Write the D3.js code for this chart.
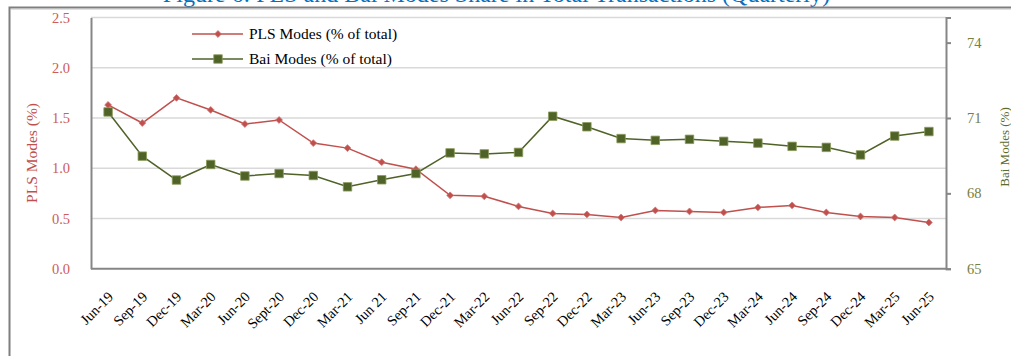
<!DOCTYPE html>
<html>
<head>
<meta charset="utf-8">
<script src="https://cdn.jsdelivr.net/npm/d3@7"></script>
<style>
  html, body { margin: 0; padding: 0; background: #fff; }
  svg { display: block; font-family: "Liberation Serif", "DejaVu Serif", serif; }
</style>
</head>
<body>
<svg id="chart" width="1011" height="356"></svg>
<script>
// Quarterly categories
const quarters = ["Jun-19","Sep-19","Dec-19","Mar-20","Jun-20","Sept-20","Dec-20","Mar-21","Jun 21","Sep-21",
  "Dec-21","Mar-22","Jun-22","Sep-22","Dec-22","Mar-23","Jun-23","Sep-23","Dec-23","Mar-24","Jun-24",
  "Sep-24","Dec-24","Mar-25","Jun-25"];

// PLS modes, % of total (left axis)
const plsShare = [1.63,1.45,1.70,1.58,1.44,1.48,1.25,1.20,1.06,0.99,
  0.73,0.72,0.62,0.55,0.54,0.51,0.58,0.57,0.56,0.61,0.63,0.56,0.52,0.51,0.46];

// Bai modes, % of total (right axis)
const baiShare = [71.24,69.48,68.53,69.15,68.69,68.79,68.71,68.26,68.54,68.79,
  69.61,69.57,69.63,71.07,70.65,70.18,70.11,70.15,70.07,70.00,69.87,69.83,69.53,70.28,70.46];

const leftTicks = [0.0,0.5,1.0,1.5,2.0,2.5];
const rightTicks = [65,68,71,74];

const seriesNames = ["PLS Modes (% of total)", "Bai Modes (% of total)"];
const titleText = "Figure 6: PLS and Bai Modes Share in Total Transactions (Quarterly)";

const svg = d3.select("#chart");
const plot = { left: 91, right: 946, top: 17.5, bottom: 268.7 };

const red = "#C0504D", green = "#4F6228";

const x = d3.scalePoint().domain(quarters).range([plot.left, plot.right]).padding(0.5);
const yL = d3.scaleLinear().domain([0, 2.5]).range([plot.bottom, plot.top]);
const yR = d3.scaleLinear().domain([65, 75]).range([plot.bottom, plot.top]);

// title (sits above the frame)
svg.append("text")
  .attr("x", 830).attr("y", 1.5)
  .attr("text-anchor", "end")
  .attr("font-size", 24)
  .attr("fill", "#0070C0")
  .text(titleText);

// outer frame
svg.append("rect")
  .attr("x", 9.5).attr("y", 7.5).attr("width", 1200).attr("height", 600)
  .attr("fill", "none").attr("stroke", "#7F7F7F").attr("stroke-width", 2);
svg.append("line")
  .attr("x1", 11).attr("x2", 1011).attr("y1", 9.5).attr("y2", 9.5)
  .attr("stroke", "#E0E0E0").attr("stroke-width", 1);

// gridlines
svg.append("g").selectAll("line")
  .data(leftTicks.slice(1))
  .join("line")
  .attr("x1", plot.left).attr("x2", plot.right)
  .attr("y1", d => yL(d)).attr("y2", d => yL(d))
  .attr("stroke", "#D9D9D9").attr("stroke-width", 1.5);

// left axis
const gL = svg.append("g").attr("transform", `translate(${plot.left},0)`)
  .call(d3.axisLeft(yL).tickValues(leftTicks).tickFormat(d3.format(".1f")).tickSize(0).tickPadding(21));
gL.select(".domain").attr("stroke", "#868686").attr("stroke-width", 2);
gL.selectAll("text").attr("font-family", "Liberation Serif").attr("font-size", 14.5).attr("fill", "#CD5C5A");

// right axis
const gR = svg.append("g").attr("transform", `translate(${plot.right},0)`)
  .call(d3.axisRight(yR).tickValues(rightTicks).tickSize(5).tickPadding(16));
gR.select(".domain").attr("stroke", "#868686").attr("stroke-width", 2);
gR.selectAll(".tick line").attr("stroke", "#868686").attr("stroke-width", 2);
gR.selectAll("text").attr("font-family", "Liberation Serif").attr("font-size", 14.5).attr("fill", "#76803F");

// bottom axis line
svg.append("line")
  .attr("x1", plot.left).attr("x2", plot.right)
  .attr("y1", plot.bottom).attr("y2", plot.bottom)
  .attr("stroke", "#868686").attr("stroke-width", 2);

// category labels
svg.append("g").selectAll("text")
  .data(quarters)
  .join("text")
  .attr("transform", d => `translate(${x(d) + 6},${plot.bottom + 29}) rotate(-45)`)
  .attr("text-anchor", "end")
  .attr("font-size", 14.5)
  .attr("fill", "#000")
  .text(d => d);

// axis titles
svg.append("text")
  .attr("transform", "translate(37,153) rotate(-90)")
  .attr("text-anchor", "middle")
  .attr("font-size", 15.5)
  .attr("fill", red)
  .text("PLS Modes (%)");
svg.append("text")
  .attr("transform", "translate(1009,147) rotate(-90)")
  .attr("text-anchor", "middle")
  .attr("font-size", 13)
  .attr("fill", "#5E6B2E")
  .text("Bai Modes (%)");

// series
const linePLS = d3.line().x((d, i) => x(quarters[i])).y(d => yL(d));
const lineBai = d3.line().x((d, i) => x(quarters[i])).y(d => yR(d));

svg.append("path").datum(plsShare)
  .attr("d", linePLS).attr("fill", "none").attr("stroke", red).attr("stroke-width", 1.5);
svg.append("path").datum(baiShare)
  .attr("d", lineBai).attr("fill", "none").attr("stroke", green).attr("stroke-width", 1.5);

const diamond = d3.symbol().type(d3.symbolDiamond2).size(30);
const square = d3.symbol().type(d3.symbolSquare).size(72);

svg.append("g").selectAll("path")
  .data(plsShare)
  .join("path")
  .attr("transform", (d, i) => `translate(${x(quarters[i])},${yL(d)})`)
  .attr("d", diamond)
  .attr("fill", red).attr("stroke", "#D07775").attr("stroke-width", 0.8);

svg.append("g").selectAll("path")
  .data(baiShare)
  .join("path")
  .attr("transform", (d, i) => `translate(${x(quarters[i])},${yR(d)})`)
  .attr("d", square)
  .attr("fill", green).attr("stroke", "#8A9A5B").attr("stroke-width", 0.8);

// legend
const legend = svg.append("g");
const legendRows = [
  { name: seriesNames[0], color: red, sym: diamond, y: 34, edge: "#D07775" },
  { name: seriesNames[1], color: green, sym: square, y: 59, edge: "#8A9A5B" }
];
legendRows.forEach(r => {
  legend.append("line").attr("x1", 192).attr("x2", 243).attr("y1", r.y).attr("y2", r.y)
    .attr("stroke", r.color).attr("stroke-width", 1.5);
  legend.append("path").attr("transform", `translate(218,${r.y})`).attr("d", r.sym)
    .attr("fill", r.color).attr("stroke", r.edge).attr("stroke-width", 0.8);
  legend.append("text").attr("x", 249).attr("y", r.y).attr("dy", "0.35em")
    .attr("font-size", 15.5).attr("fill", "#000").text(r.name);
});
</script>
</body>
</html>
